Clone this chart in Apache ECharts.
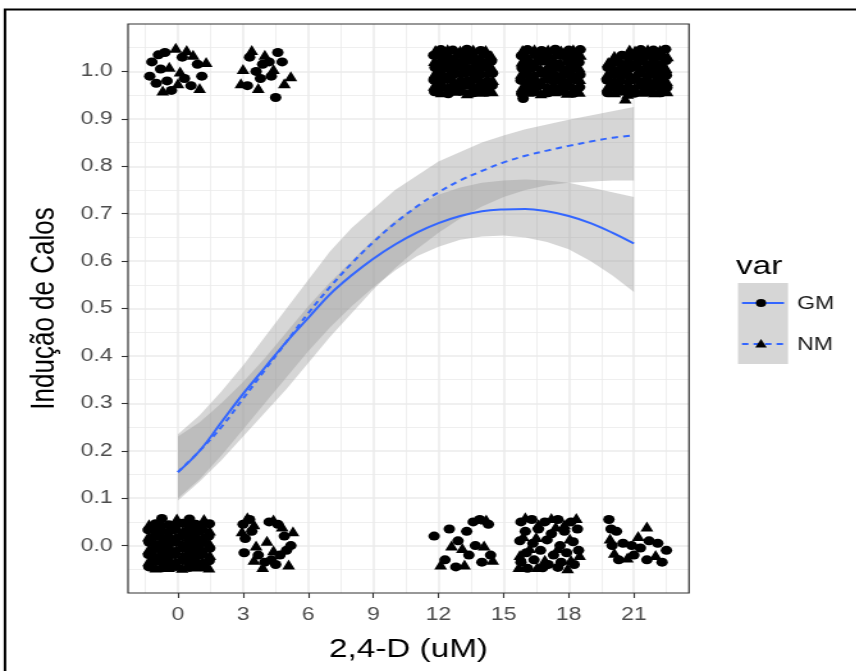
<!DOCTYPE html>
<html>
<head>
<meta charset="utf-8">
<script src="https://cdn.jsdelivr.net/npm/echarts@6/dist/echarts.min.js"></script>
<style>
  html, body { margin: 0; padding: 0; background: #fff; overflow: hidden; }
  #chart { width: 668.75px; height: 671px; transform: scaleX(1.28); transform-origin: 0 0; }
</style>
</head>
<body>
<div id="chart"></div>
<script>
// Callus induction vs 2,4-D dose, two varieties (GM, NM), logistic fits with confidence bands
const xTicks = [0, 3, 6, 9, 12, 15, 18, 21];
const xMinor = [-1.5, 1.5, 4.5, 7.5, 10.5, 13.5, 16.5, 19.5, 22.5];
const yTicks = [0, 0.1, 0.2, 0.3, 0.4, 0.5, 0.6, 0.7, 0.8, 0.9, 1.0];
const yMinor = [-0.05, 0.05, 0.15, 0.25, 0.35, 0.45, 0.55, 0.65, 0.75, 0.85, 0.95, 1.05];

// fitted curves and bands, evaluated at each dose step
const fitDose = [0, 1, 2, 3, 4, 5, 6, 7, 8, 9, 10, 11, 12, 13, 14, 15, 16, 17, 18, 19, 20, 21];
const gmFit = [0.155, 0.20, 0.26, 0.32, 0.375, 0.43, 0.48, 0.53, 0.57, 0.605, 0.635, 0.66, 0.68, 0.695, 0.705, 0.709, 0.71, 0.705, 0.695, 0.68, 0.66, 0.637];
const gmLow = [0.10, 0.14, 0.19, 0.245, 0.30, 0.355, 0.41, 0.46, 0.505, 0.545, 0.58, 0.61, 0.63, 0.645, 0.652, 0.654, 0.65, 0.64, 0.625, 0.60, 0.57, 0.535];
const gmHigh = [0.23, 0.26, 0.30, 0.345, 0.395, 0.45, 0.505, 0.555, 0.60, 0.645, 0.685, 0.715, 0.74, 0.755, 0.765, 0.77, 0.772, 0.77, 0.765, 0.755, 0.745, 0.735];
const nmFit = [0.155, 0.20, 0.25, 0.31, 0.37, 0.43, 0.49, 0.545, 0.595, 0.64, 0.68, 0.715, 0.745, 0.77, 0.79, 0.808, 0.822, 0.833, 0.843, 0.852, 0.86, 0.865];
const nmLow = [0.095, 0.135, 0.18, 0.23, 0.28, 0.33, 0.385, 0.44, 0.49, 0.54, 0.585, 0.625, 0.66, 0.69, 0.715, 0.735, 0.75, 0.76, 0.765, 0.768, 0.77, 0.77];
const nmHigh = [0.235, 0.275, 0.325, 0.38, 0.44, 0.50, 0.56, 0.62, 0.67, 0.71, 0.75, 0.78, 0.81, 0.83, 0.85, 0.865, 0.878, 0.888, 0.898, 0.907, 0.916, 0.925];

// jittered observations (dose, response 0/1)
const gmObs = [
  [-1.2,1.02],[-0.9,1.035],[-0.6,1.04],[-1.3,0.99],[-1.0,0.975],[-0.5,0.98],[-0.8,1.005],[0.3,0.985],[0.6,0.97],[1.1,0.99],[0.2,1.03],[-0.3,0.96],[0.9,1.015],
  [3.3,1.03],[3.6,1.0],[3.9,1.015],[4.2,1.02],[4.6,1.04],[4.8,1.02],[3.8,0.985],[4.3,0.99],[4.5,0.945],[3.2,0.97],
  [11.82,0.957],[12.45,0.953],[13.02,0.958],[13.61,0.955],[14.22,0.956],[12.12,0.969],[12.74,0.967],[13.33,0.971],[13.93,0.966],[14.47,0.970],
  [11.79,0.982],[12.41,0.984],[13.05,0.980],[13.64,0.983],[14.25,0.979],[12.09,0.995],[12.69,0.993],[13.28,0.997],[13.88,0.992],[14.49,0.996],
  [11.84,1.008],[12.47,1.006],[13.01,1.010],[13.62,1.005],[14.19,1.009],[12.15,1.021],[12.72,1.019],[13.35,1.023],[13.91,1.018],[14.44,1.022],
  [11.78,1.034],[12.38,1.032],[13.06,1.036],[13.58,1.031],[14.23,1.035],[12.11,1.046],[12.66,1.045],[13.31,1.047],[13.95,1.044],
  [15.83,0.953],[16.41,0.957],[17.05,0.955],[17.63,0.958],[18.22,0.954],[16.12,0.968],[16.7,0.971],[17.31,0.966],[17.94,0.969],[18.5,0.967],
  [15.8,0.981],[16.44,0.979],[17.02,0.984],[17.66,0.98],[18.27,0.983],[16.09,0.994],[16.73,0.996],[17.36,0.992],[17.9,0.995],[18.52,0.993],
  [15.85,1.007],[16.39,1.009],[17.06,1.005],[17.61,1.008],[18.2,1.006],[16.16,1.02],[16.68,1.022],[17.33,1.018],[17.96,1.021],[18.47,1.019],
  [15.82,1.033],[16.46,1.035],[17.01,1.031],[17.67,1.034],[18.25,1.032],[16.1,1.046],[16.75,1.044],[17.38,1.047],[18.0,1.045],[18.53,1.046],[15.9,0.943],
  [19.78,0.955],[20.4,0.958],[21.02,0.954],[21.64,0.957],[22.25,0.955],[20.1,0.969],[20.73,0.967],[21.33,0.97],[21.95,0.968],[22.52,0.966],
  [19.76,0.982],[20.37,0.98],[21.05,0.983],[21.61,0.981],[22.22,0.984],[20.07,0.995],[20.7,0.993],[21.3,0.996],[21.97,0.994],[22.5,0.992],
  [19.8,1.008],[20.42,1.006],[21.01,1.01],[21.66,1.007],[22.27,1.009],[20.12,1.021],[20.75,1.019],[21.36,1.022],[21.92,1.02],[22.49,1.023],
  [20.45,1.034],[21.04,1.032],[21.63,1.035],[22.24,1.033],[21.32,1.046],[21.9,1.045],[22.46,1.047],
  [-1.34,-0.045],[-0.72,-0.047],[-0.11,-0.044],[0.52,-0.046],[1.12,-0.045],[-1.04,-0.032],[-0.44,-0.034],[0.2,-0.031],[0.81,-0.033],[1.44,-0.032],
  [-1.36,-0.019],[-0.76,-0.021],[-0.14,-0.018],[0.49,-0.02],[1.1,-0.019],[-1.02,-0.006],[-0.41,-0.008],[0.22,-0.005],[0.83,-0.007],[1.46,-0.006],
  [-1.33,0.007],[-0.73,0.005],[-0.1,0.008],[0.51,0.006],[1.14,0.007],[-1.05,0.02],[-0.43,0.018],[0.18,0.021],[0.79,0.019],[1.42,0.02],
  [-1.37,0.033],[-0.75,0.031],[-0.13,0.034],[0.5,0.032],[1.11,0.033],[-1.03,0.046],[-0.42,0.044],[0.21,0.047],[0.82,0.045],[1.45,0.046],
  [-0.74,0.057],[0.53,0.056],
  [3.0,0.045],[3.3,0.055],[3.4,0.03],[3.1,0.015],[3.05,-0.015],[3.7,-0.02],[4.0,-0.035],[4.3,-0.03],[4.5,-0.04],[4.7,-0.02],[5.0,-0.01],[4.9,0.02],[5.2,0.0],[4.6,0.045],[4.2,0.05],
  [11.8,0.02],[12.5,0.035],[12.9,0.01],[13.3,0.03],[13.6,0.05],[13.9,0.055],[14.3,0.045],[12.3,-0.03],[12.8,-0.045],[13.4,-0.02],[14.0,-0.035],[14.4,-0.02],[13.7,0.0],
  [15.8,0.05],[16.3,0.055],[16.9,0.05],[17.5,0.055],[18.1,0.05],[16.0,0.03],[16.6,0.035],[17.2,0.025],[17.8,0.03],[18.4,0.035],[15.75,0.01],[16.35,0.005],[17.0,0.012],[17.6,0.0],
  [18.2,0.008],[16.05,-0.015],[16.7,-0.01],[17.3,-0.02],[17.9,-0.015],[18.45,-0.01],[15.8,-0.035],[16.4,-0.03],[17.05,-0.04],[17.65,-0.035],[18.25,-0.04],[16.1,-0.048],[16.8,-0.047],[17.5,-0.046],
  [19.85,0.055],[19.95,0.035],[20.2,0.03],[20.0,0.0],[20.5,0.005],[20.9,0.0],[21.3,-0.005],[21.7,0.01],[22.1,0.005],[22.5,-0.01],[20.3,-0.03],[21.0,-0.02],[21.6,-0.03],[22.3,-0.035]
];
const nmObs = [
  [-0.1,1.05],[0.4,1.045],[-0.4,1.01],[0.1,1.0],[1.3,1.02],[0.7,1.035],[-0.7,0.96],[1.0,0.965],[0.0,0.975],
  [3.0,1.005],[3.4,1.045],[4.0,1.035],[4.4,1.005],[3.7,0.965],[5.2,0.99],[4.9,0.975],[2.9,0.975],
  [12.13,0.956],[12.76,0.959],[13.32,0.954],[13.9,0.957],[14.48,0.958],[11.8,0.970],[12.43,0.968],[13.04,0.966],[13.63,0.969],[14.2,0.967],
  [12.1,0.983],[12.71,0.981],[13.3,0.985],[13.94,0.980],[14.5,0.982],[11.83,0.996],[12.44,0.994],[13.03,0.998],[13.6,0.993],[14.21,0.997],
  [12.14,1.009],[12.73,1.007],[13.34,1.011],[13.89,1.006],[14.46,1.008],[11.81,1.022],[12.4,1.020],[13.07,1.024],[13.65,1.019],[14.24,1.021],
  [12.08,1.035],[12.75,1.033],[13.29,1.037],[13.92,1.032],[14.43,1.034],[11.86,1.045],[12.42,1.047],[13.0,1.044],[13.6,1.046],[14.18,1.045],
  [16.14,0.957],[16.72,0.954],[17.35,0.958],[17.92,0.955],[18.49,0.957],[15.86,0.967],[16.45,0.970],[17.03,0.968],[17.62,0.971],[18.23,0.966],
  [16.11,0.982],[16.74,0.980],[17.34,0.983],[17.97,0.981],[18.51,0.984],[15.81,0.995],[16.4,0.993],[17.07,0.997],[17.64,0.994],[18.19,0.996],
  [16.13,1.008],[16.71,1.006],[17.3,1.01],[17.93,1.007],[18.48,1.009],[15.84,1.021],[16.43,1.019],[17.04,1.023],[17.6,1.02],[18.24,1.022],
  [16.08,1.034],[16.69,1.032],[17.37,1.036],[17.95,1.033],[18.54,1.035],[15.87,1.045],[16.42,1.047],[17.05,1.046],[17.65,1.044],[18.21,1.047],
  [20.12,0.956],[20.71,0.953],[21.35,0.957],[21.93,0.956],[22.53,0.958],[19.79,0.968],[20.41,0.97],[21.03,0.967],[21.62,0.969],[22.26,0.971],
  [20.09,0.981],[20.74,0.984],[21.34,0.98],[21.96,0.982],[22.51,0.98],[19.77,0.994],[20.38,0.996],[21.06,0.993],[21.65,0.995],[22.23,0.997],
  [20.11,1.007],[20.72,1.009],[21.31,1.006],[21.94,1.008],[22.48,1.007],[19.82,1.02],[20.39,1.022],[21.07,1.021],[21.6,1.019],[22.28,1.021],
  [20.1,1.033],[20.76,1.035],[21.37,1.036],[21.91,1.034],[22.55,1.032],[20.8,1.046],[21.05,1.044],[21.64,1.047],[22.2,1.045],[20.6,0.943],
  [-1.03,-0.046],[-0.42,-0.045],[0.19,-0.047],[0.8,-0.044],[1.43,-0.046],[-1.35,-0.033],[-0.74,-0.031],[-0.12,-0.033],[0.5,-0.032],[1.13,-0.034],
  [-1.06,-0.02],[-0.45,-0.019],[0.21,-0.021],[0.82,-0.018],[1.47,-0.02],[-1.34,-0.007],[-0.71,-0.005],[-0.09,-0.008],[0.52,-0.006],[1.12,-0.007],
  [-1.04,0.006],[-0.44,0.008],[0.2,0.005],[0.8,0.007],[1.44,0.006],[-1.36,0.019],[-0.72,0.021],[-0.12,0.018],[0.49,0.02],[1.13,0.019],
  [-1.02,0.032],[-0.4,0.034],[0.22,0.031],[0.81,0.033],[1.46,0.032],[-1.33,0.045],[-0.76,0.047],[-0.11,0.044],[0.51,0.046],[1.1,0.045],
  [-0.05,0.057],[1.2,0.056],
  [3.2,0.06],[2.95,0.03],[3.5,0.045],[4.4,0.055],[4.8,0.04],[3.6,0.0],[4.1,0.01],[3.9,-0.045],[4.4,-0.01],[5.1,-0.04],[5.3,0.03],[3.5,-0.03],
  [12.6,0.0],[13.1,-0.005],[12.1,-0.04],[14.5,-0.03],[13.2,-0.04],[14.1,0.0],[14.2,0.055],
  [16.0,0.06],[16.6,0.045],[17.2,0.058],[17.8,0.045],[18.35,0.058],[15.9,0.02],[16.5,0.018],[17.4,0.04],[18.05,0.015],[16.2,-0.005],
  [16.9,-0.03],[17.5,-0.005],[18.1,-0.03],[15.7,-0.045],[16.55,-0.045],[17.95,-0.048],[18.5,-0.02],[15.75,-0.02],
  [21.6,0.04],[19.9,0.015],[20.7,-0.025],[22.0,-0.02],[21.2,0.02],[20.1,-0.015]
];

const SX = 1.28;               // horizontal stretch applied to the drawing surface
const px = v => v / SX;        // page x position -> surface x position
const FONT = '"Liberation Sans", Arial, sans-serif';
const BLUE = '#3366FF';
const BAND = 'rgba(153,153,153,0.4)';

function bandSeries(low, high) {
  return {
    type: 'custom',
    coordinateSystem: 'cartesian2d',
    data: fitDose.map((d, i) => [d, low[i], high[i]]),
    encode: { x: 0, y: [1, 2] },
    silent: true,
    z: 1,
    renderItem: function (params, api) {
      if (params.dataIndex !== 0) return null;
      const upper = fitDose.map((d, i) => api.coord([d, high[i]]));
      const lower = fitDose.map((d, i) => api.coord([d, low[i]])).reverse();
      return {
        type: 'polygon',
        shape: { points: upper.concat(lower), smooth: 0 },
        style: { fill: BAND, stroke: null }
      };
    }
  };
}

const chart = echarts.init(document.getElementById('chart'), null, { renderer: 'canvas' });

const axisLineOff = { show: false, onZero: false };
const option = {
  animation: false,
  backgroundColor: '#fff',
  grid: {
    left: px(128), top: 24, width: px(561), height: 569,
    show: true, borderColor: '#333333', borderWidth: 1.2, backgroundColor: 'transparent', z: 3
  },
  xAxis: [
    {
      type: 'value', min: -2.3, max: 23.54, position: 'bottom',
      axisLine: axisLineOff,
      axisTick: { show: true, customValues: xTicks, length: 5, lineStyle: { color: '#333', width: 1.1 } },
      axisLabel: { customValues: xTicks, color: '#4d4d4d', fontSize: 18, fontFamily: FONT, margin: 13 },
      splitLine: { show: true, lineStyle: { color: '#ebebeb', width: 1.5 } },
      name: '2,4-D (uM)', nameLocation: 'middle', nameGap: 44,
      nameTextStyle: { color: '#000', fontSize: 26, fontFamily: FONT }
    },
    {
      type: 'value', min: -2.3, max: 23.54, position: 'bottom',
      axisLine: axisLineOff,
      axisTick: { show: false, customValues: xMinor },
      axisLabel: { show: false, customValues: xMinor },
      splitLine: { show: true, lineStyle: { color: '#ebebeb', width: 0.8 } }
    }
  ],
  yAxis: [
    {
      type: 'value', min: -0.1, max: 1.1, position: 'left',
      axisLine: axisLineOff,
      axisTick: { show: true, customValues: yTicks, length: 5, lineStyle: { color: '#333', width: 1.1 } },
      axisLabel: { customValues: yTicks, color: '#4d4d4d', fontSize: 18, fontFamily: FONT, margin: 12,
                   formatter: v => Number(v).toFixed(1) },
      splitLine: { show: true, lineStyle: { color: '#ebebeb', width: 1.5 } },
      name: 'Indução de Calos', nameLocation: 'middle', nameGap: 52,
      nameTextStyle: { color: '#000', fontSize: 26, fontFamily: FONT }
    },
    {
      type: 'value', min: -0.1, max: 1.1, position: 'left',
      axisLine: axisLineOff,
      axisTick: { show: false, customValues: yMinor },
      axisLabel: { show: false, customValues: yMinor },
      splitLine: { show: true, lineStyle: { color: '#ebebeb', width: 0.8 } }
    }
  ],
  series: [
    bandSeries(gmLow, gmHigh),
    bandSeries(nmLow, nmHigh),
    {
      name: 'GM', type: 'line', z: 2, smooth: 0.4, showSymbol: false, silent: true,
      data: fitDose.map((d, i) => [d, gmFit[i]]),
      lineStyle: { color: BLUE, width: 2 }
    },
    {
      name: 'NM', type: 'line', z: 2, smooth: 0.4, showSymbol: false, silent: true,
      data: fitDose.map((d, i) => [d, nmFit[i]]),
      lineStyle: { color: BLUE, width: 2, type: [5, 4] }
    },
    {
      name: 'GM', type: 'scatter', z: 4, symbol: 'circle', symbolSize: 9, silent: true,
      data: gmObs, itemStyle: { color: '#000', opacity: 1 }
    },
    {
      name: 'NM', type: 'scatter', z: 4, symbol: 'triangle', symbolSize: 10, silent: true,
      data: nmObs, itemStyle: { color: '#000', opacity: 1 }
    }
  ],
  graphic: [
    { type: 'rect', z: 100, shape: { x: px(5), y: 9.5, width: 900, height: 900 },
      style: { fill: 'none', stroke: '#000', lineWidth: 2 } },
    { type: 'text', z: 100, x: px(736), y: 267,
      style: { text: 'var', fontSize: 26, fontFamily: FONT, fill: '#000', verticalAlign: 'middle' } },
    { type: 'rect', z: 100, shape: { x: px(738), y: 283, width: px(50), height: 81 },
      style: { fill: '#d6d6d6' } },
    { type: 'line', z: 101, shape: { x1: px(742), y1: 303, x2: px(784), y2: 303 },
      style: { stroke: BLUE, lineWidth: 2 } },
    { type: 'circle', z: 102, shape: { cx: px(761), cy: 303, r: 4 }, style: { fill: '#000' } },
    { type: 'line', z: 101, shape: { x1: px(742), y1: 344, x2: px(784), y2: 344 },
      style: { stroke: BLUE, lineWidth: 2, lineDash: [5, 4] } },
    { type: 'polygon', z: 102, shape: { points: [[px(761), 339], [px(761) + 4.5, 347.5], [px(761) - 4.5, 347.5]] },
      style: { fill: '#000' } },
    { type: 'text', z: 100, x: px(797), y: 304,
      style: { text: 'GM', fontSize: 18, fontFamily: FONT, fill: '#1a1a1a', verticalAlign: 'middle' } },
    { type: 'text', z: 100, x: px(797), y: 345,
      style: { text: 'NM', fontSize: 18, fontFamily: FONT, fill: '#1a1a1a', verticalAlign: 'middle' } }
  ]
};

chart.setOption(option);
</script>
</body>
</html>
